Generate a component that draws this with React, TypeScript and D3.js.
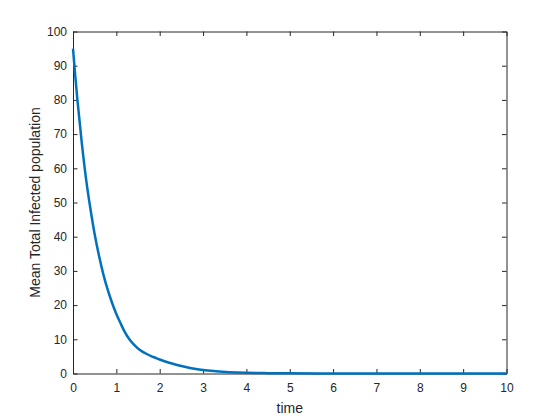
import React, { useEffect, useRef } from 'react';
import * as d3 from 'd3';

// mean infected population
const times = [0, 0.05, 0.1, 0.2, 0.3, 0.4, 0.5, 0.6, 0.7, 0.8, 0.9, 1.0, 1.1, 1.2, 1.3, 1.4, 1.5,
  1.6, 1.7, 1.8, 1.9, 2.0, 2.2, 2.4, 2.6, 2.8, 3.0, 3.3, 3.6, 4.0, 4.5, 5.0, 6.0, 7, 8, 9, 10];
const infected = [95, 87.3, 80.2, 67.7, 57, 48.3, 40.7, 34.4, 29, 24.5, 20.7, 17.4, 14.6, 12.0, 10.0, 8.5, 7.3,
  6.4, 5.7, 5.1, 4.6, 4.1, 3.2, 2.5, 1.9, 1.4, 1.0, 0.65, 0.4, 0.2, 0.1, 0.05, 0.02, 0, 0, 0, 0];

const xTicks = [0, 1, 2, 3, 4, 5, 6, 7, 8, 9, 10];
const yTicks = [0, 10, 20, 30, 40, 50, 60, 70, 80, 90, 100];

const xLabel = 'time';
const yLabel = 'Mean Total Infected population';

export default function App() {
  const ref = useRef<SVGSVGElement>(null);

  useEffect(() => {
    const svg = d3.select(ref.current);
    svg.selectAll('*').remove();

    const width = 560, height = 420;
    const left = 73, right = 506.5, top = 31.5, bottom = 373.5;
    const ink = '#262626';
    const font = '"Liberation Sans", Arial, sans-serif';

    svg.append('rect').attr('width', width).attr('height', height).attr('fill', '#fff');

    const x = d3.scaleLinear().domain([0, 10]).range([left, right]);
    const y = d3.scaleLinear().domain([0, 100]).range([bottom, top]);

    const tickLen = 4.5;

    // bottom axis, ticks pointing in
    const xAxis = svg.append('g')
      .attr('transform', 'translate(0,' + bottom + ')')
      .call(d3.axisBottom(x).tickValues(xTicks).tickSizeInner(-tickLen).tickSizeOuter(0).tickPadding(10));
    xAxis.select('.domain').attr('stroke', ink);
    xAxis.selectAll('line').attr('stroke', ink);
    xAxis.selectAll('text').attr('fill', ink).style('font-family', font).style('font-size', '12px');

    // left axis
    const yAxis = svg.append('g')
      .attr('transform', 'translate(' + left + ',0)')
      .call(d3.axisLeft(y).tickValues(yTicks).tickSizeInner(-tickLen).tickSizeOuter(0).tickPadding(6));
    yAxis.select('.domain').attr('stroke', ink);
    yAxis.selectAll('line').attr('stroke', ink);
    yAxis.selectAll('text').attr('fill', ink).style('font-family', font).style('font-size', '12px');

    // top and right edges of the box, ticks only
    const xTop = svg.append('g')
      .attr('transform', 'translate(0,' + top + ')')
      .call(d3.axisTop(x).tickValues(xTicks).tickSizeInner(-tickLen).tickSizeOuter(0).tickFormat(() => ''));
    xTop.selectAll('path, line').attr('stroke', ink);

    const yRight = svg.append('g')
      .attr('transform', 'translate(' + right + ',0)')
      .call(d3.axisRight(y).tickValues(yTicks).tickSizeInner(-tickLen).tickSizeOuter(0).tickFormat(() => ''));
    yRight.selectAll('path, line').attr('stroke', ink);

    // the curve
    const line = d3.line<number>()
      .x((d, i) => x(times[i]))
      .y(d => y(d))
      .curve(d3.curveMonotoneX);

    svg.append('path')
      .datum(infected)
      .attr('d', line)
      .attr('fill', 'none')
      .attr('stroke', '#0072BD')
      .attr('stroke-width', 2.5);

    // axis labels
    svg.append('text')
      .attr('x', (left + right) / 2)
      .attr('y', 413)
      .attr('text-anchor', 'middle')
      .attr('fill', ink)
      .style('font-family', font)
      .style('font-size', '14px')
      .text(xLabel);

    svg.append('text')
      .attr('transform', 'translate(39.5,' + (top + bottom) / 2 + ') rotate(-90)')
      .attr('text-anchor', 'middle')
      .attr('fill', ink)
      .style('font-family', font)
      .style('font-size', '14px')
      .text(yLabel);
  }, []);

  return (
    <svg ref={ref} width={560} height={420}
      style={{ position: 'absolute', left: 0, top: 0, display: 'block' }} />
  );
}
